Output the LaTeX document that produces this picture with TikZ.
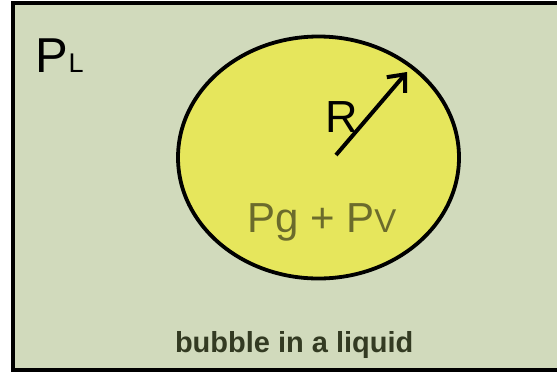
\documentclass[tikz,border=0pt]{standalone}
\usepackage{fontspec}
\setmainfont{Liberation Sans}
\usetikzlibrary{shapes.geometric,arrows.meta}
\definecolor{sage}{HTML}{D1DABC}
\definecolor{bubblefill}{HTML}{E6E65C}
\definecolor{olivetext}{HTML}{6B6B2C}
\definecolor{darktext}{HTML}{333A22}
\tikzset{
  lbl/.style={anchor=base west, inner sep=0pt, outer sep=0pt},
}
\begin{document}
\begin{tikzpicture}[x=1pt,y=-1pt]
\useasboundingbox (0,0) rectangle (557,376);
\fill[white] (0,0) rectangle (557,376);
\draw[line width=4pt, fill=sage] (13,3) rectangle (566,370);
\node[ellipse, draw, line width=3.8pt, fill=bubblefill, minimum width=281pt, minimum height=242pt, inner sep=0pt] (bubble) at (318.5,157.5) {};
\node[lbl] (pl) at (35,72) {\fontsize{49}{49}\selectfont P\kern1pt\fontsize{27}{27}\selectfont L};
\node[lbl] (r) at (325,132) {\fontsize{45}{45}\selectfont R};
\node[lbl, text=olivetext] (pgpv) at (247,232) {\fontsize{42}{42}\selectfont Pg + P\fontsize{33}{33}\selectfont V};
\node[lbl, text=darktext] (cap) at (175,352) {\fontsize{29}{29}\selectfont\bfseries bubble in a liquid};
\coordinate (rstart) at (336,155);
\coordinate (rend) at (407,72);
\draw[line width=4pt, -{Straight Barb[length=14pt,width=24pt,line width=4pt]}] (rstart) -- (rend);
\end{tikzpicture}
\end{document}
